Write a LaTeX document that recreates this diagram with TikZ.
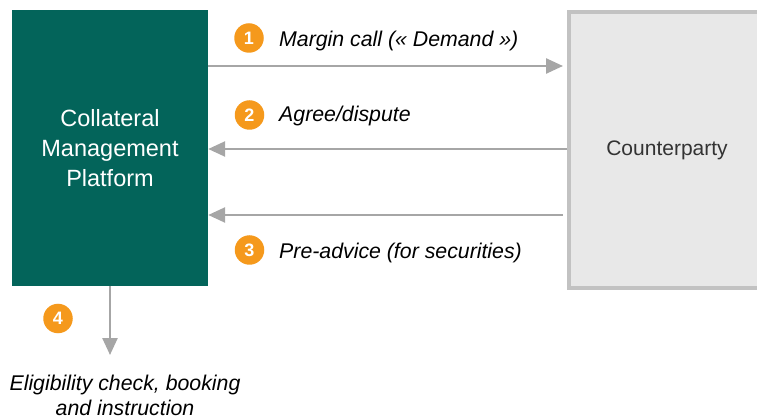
\documentclass[tikz,border=0pt]{standalone}
\usepackage{fontspec}
\setmainfont{Liberation Sans}
\usetikzlibrary{arrows.meta}
\definecolor{teal}{HTML}{03645A}
\definecolor{cpfill}{HTML}{E8E8E8}
\definecolor{cpline}{HTML}{C2C2C2}
\definecolor{flow}{HTML}{A6A6A6}
\definecolor{badge}{HTML}{F5991C}
\tikzset{
  flowline/.style={draw=flow, line width=2.5pt, -{Triangle[length=17pt,width=15pt]}},
  stepnum/.style={circle, fill=badge, text=white, minimum size=29.5pt, inner sep=0pt, font=\fontsize{18}{18}\selectfont\bfseries},
  steplabel/.style={anchor=west, inner sep=0pt, font=\fontsize{21.3}{24}\selectfont\itshape},
}
\begin{document}
\begin{tikzpicture}[x=1pt,y=-1pt]
\useasboundingbox (0,0) rectangle (757,419);
\clip (0,0) rectangle (757,419);
% the two parties
\node (cmp) [fill=teal, minimum width=196pt, minimum height=276pt, inner sep=0pt, text=white,
  align=center, font=\fontsize{23.5}{30}\selectfont] at (110,148) {Collateral\\Management\\Platform};
\node (cp) [fill=cpfill, draw=cpline, line width=3.5pt, minimum width=196pt, minimum height=276pt,
  inner sep=0pt, anchor=north west] at (567,10.5) {};
\node (cptext) [text=black!80, font=\fontsize{21}{25}\selectfont] at (667,150) {Counterparty};
% message points
\coordinate (a1) at (cmp.east |- 0,66);
\coordinate (b1) at (563,66);
\coordinate (a2) at (cmp.east |- 0,149);
\coordinate (b2) at (cp.west |- 0,149);
\coordinate (a3) at (cmp.east |- 0,215);
\coordinate (b3) at (563,215);
\coordinate (down) at (110,355);
\draw[flowline] (a1) -- (b1);
\draw[flowline] (b2) -- (a2);
\draw[flowline] (b3) -- (a3);
\draw[flowline] (cmp.south -| down) -- (down);
% numbered steps
\node (n1) [stepnum] at (249,38) {1};
\node (n2) [stepnum] at (249.5,115) {2};
\node (n3) [stepnum] at (249.5,250) {3};
\node (n4) [stepnum] at (58,318.5) {4};
\node (t1) [steplabel] at (279,41) {Margin call (« Demand »)};
\node (t2) [steplabel] at (279,116) {Agree/dispute};
\node (t3) [steplabel] at (279,253) {Pre-advice (for securities)};
\node (t4) [align=center, inner sep=0pt, font=\fontsize{21.3}{25}\selectfont\itshape] at (125,395)
  {Eligibility check, booking\\and instruction};
\end{tikzpicture}
\end{document}
